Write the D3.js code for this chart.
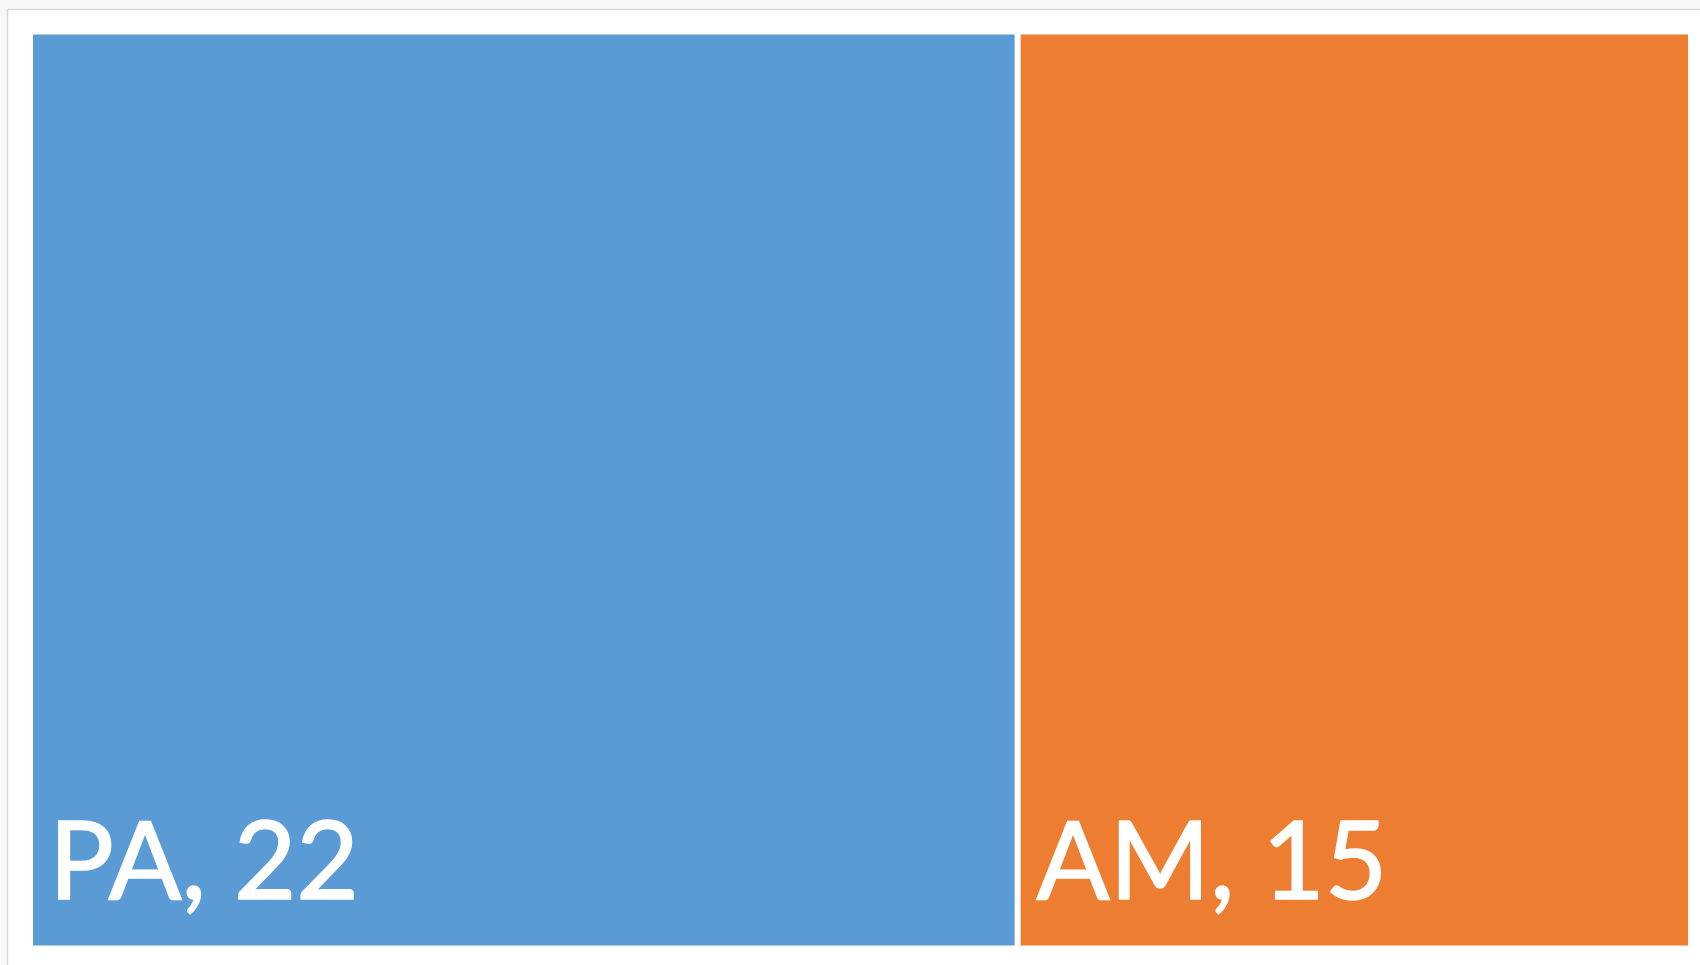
<!DOCTYPE html>
<html lang="en">
<head>
	<meta charset="UTF-8">
	<title>Treemap</title>
	<script src="https://cdn.jsdelivr.net/npm/d3@7"></script>
	<style>
		html,body{
			margin:0;
			padding:0;
			background:#f8f8f8;
		}
		svg{
			display:block;
		}
		.label{
			fill:#fff;
			stroke:#fff;
			stroke-width:1.6;
			font-family:Lato, "Open Sans", sans-serif;
		}
	</style>
</head>
<body>
	<svg id="svg" width="1700" height="965"></svg>
	<script>
		var names = ["PA","AM"];
		var values = [22,15];
		var colors = ["#5b9bd5","#ed7d31"];

		var svg = d3.select("#svg"),
			w = 1700,
			h = 965;

		// chart frame
		svg.append("rect")
			.attr("x",7.5)
			.attr("y",9.5)
			.attr("width",w)
			.attr("height",h)
			.attr("fill","#fff")
			.attr("stroke","#d9d9d9")
			.attr("stroke-width",1.5)

		var data = {children:names.map((n,i)=>{
			return {name:n,value:values[i],color:colors[i]}
		})}

		var root = d3.hierarchy(data)
			.sum((d)=>{return d.value})

		d3.treemap()
			.tile(d3.treemapDice)
			.size([1655,911])
			.paddingInner(6)(root)

		var g = svg.append("g")
			.attr("transform","translate(33,34.5)")

		var cell = g.selectAll(".cell")
			.data(root.leaves())
			.enter().append("g")
			.attr("class","cell")
			.attr("transform",(d)=>{return "translate("+d.x0+","+d.y0+")"})

		cell.append("rect")
			.attr("width",(d)=>{return d.x1-d.x0})
			.attr("height",(d)=>{return d.y1-d.y0})
			.attr("fill",(d)=>{return d.data.color})

		cell.append("text")
			.attr("class","label")
			.attr("x",16)
			.attr("y",(d)=>{return d.y1-d.y0-47})
			.attr("font-size",108)
			.text((d)=>{return d.data.name+", "+d.data.value})
	</script>
</body>
</html>
